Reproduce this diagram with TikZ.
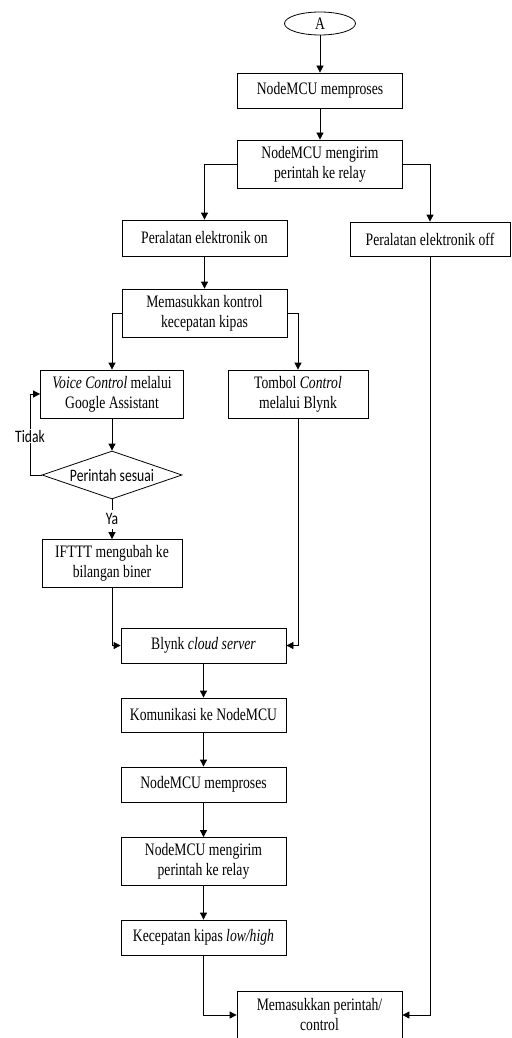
\documentclass[tikz,border=0pt]{standalone}
\usepackage{fontspec}
\setmainfont{Liberation Serif}[FakeStretch=0.78]
\newfontfamily\calibri{Carlito}[FakeStretch=0.78]
\usepackage{tikz}
\usetikzlibrary{arrows.meta}
\usetikzlibrary{shapes.geometric}

\begin{document}
\begin{tikzpicture}
[x=1pt,y=-1pt,line width=0.8pt,%
  >={Triangle[length=7pt,width=7pt]},%
  every node/.style={inner sep=0pt,align=center,font=\fontsize{17.5}{20}\selectfont},%
  box/.style={shape=rectangle,draw,minimum width=165pt,minimum height=35pt},%
  tallbox/.style={box,minimum height=48pt},%
  decision/.style={shape=diamond,draw,aspect=2.9,minimum width=140pt,minimum height=48pt,font=\calibri\fontsize{17.5}{20}\selectfont},%
  lbl/.style={fill=white,inner sep=1pt,font=\calibri\fontsize{17.5}{20}\selectfont}]
\useasboundingbox (0,0) rectangle (511,1038);
\node[shape=ellipse,draw,minimum width=71pt,minimum height=23pt] (start) at (320,23.5) {A};
\node[box] (proses1) at (320,90.5) {NodeMCU memproses};
\node[tallbox] (kirim1) at (320,164) {NodeMCU mengirim\\perintah ke relay};
\node[box,minimum height=36pt] (on) at (204.5,238) {Peralatan elektronik on};
\node[box,minimum width=160pt,minimum height=34pt] (off) at (430,239) {Peralatan elektronik off};
\node[tallbox] (kontrol) at (204.5,313) {Memasukkan kontrol\\kecepatan kipas};
\node[tallbox,minimum width=143pt] (voice) at (112,394) {\textit{Voice Control} melalui\\Google Assistant};
\node[tallbox,minimum width=140pt] (tombol) at (298,394) {Tombol \textit{Control}\\melalui Blynk};
\node[decision] (sesuai) at (112,475) {Perintah sesuai};
\node[tallbox,minimum width=140pt] (ifttt) at (112,563.5) {IFTTT mengubah ke\\bilangan biner};
\node[box] (blynk) at (203.5,645.5) {Blynk \textit{cloud server}};
\node[box,minimum height=34pt] (kom) at (203.5,715) {Komunikasi ke NodeMCU};
\node[box] (proses2) at (203.5,784.5) {NodeMCU memproses};
\node[tallbox] (kirim2) at (203.5,861.5) {NodeMCU mengirim\\perintah ke relay};
\node[box] (kecepatan) at (203.5,937.5) {Kecepatan kipas \textit{low/high}};
\node[tallbox] (masuk) at (319.5,1015) {Memasukkan perintah/\\control};
\coordinate (balik) at (30,475);

\draw[->] (start) -- (proses1);
\draw[->] (proses1) -- (kirim1);
\draw[->] (kirim1.west) -| (on.north);
\draw[->] (kirim1.east) -| (off.north);
\draw[->] (on) -- (kontrol);
\draw[->] (kontrol.west) -| (voice.north);
\draw[->] (kontrol.east) -| (tombol.north);
\draw[->] (voice) -- (sesuai);
\draw[->] (sesuai.west) -- (balik) |- node[lbl,pos=0.24] {Tidak} (voice.west);
\draw[->] (sesuai) -- node[lbl,inner ysep=4pt] {Ya} (ifttt);
\draw[->] (ifttt.south) |- (blynk.west);
\draw[->] (tombol.south) |- (blynk.east);
\draw[->] (blynk) -- (kom);
\draw[->] (kom) -- (proses2);
\draw[->] (proses2) -- (kirim2);
\draw[->] (kirim2) -- (kecepatan);
\draw[->] (kecepatan.south) |- (masuk.west);
\draw[->] (off.south) |- (masuk.east);
\end{tikzpicture}
\end{document}
